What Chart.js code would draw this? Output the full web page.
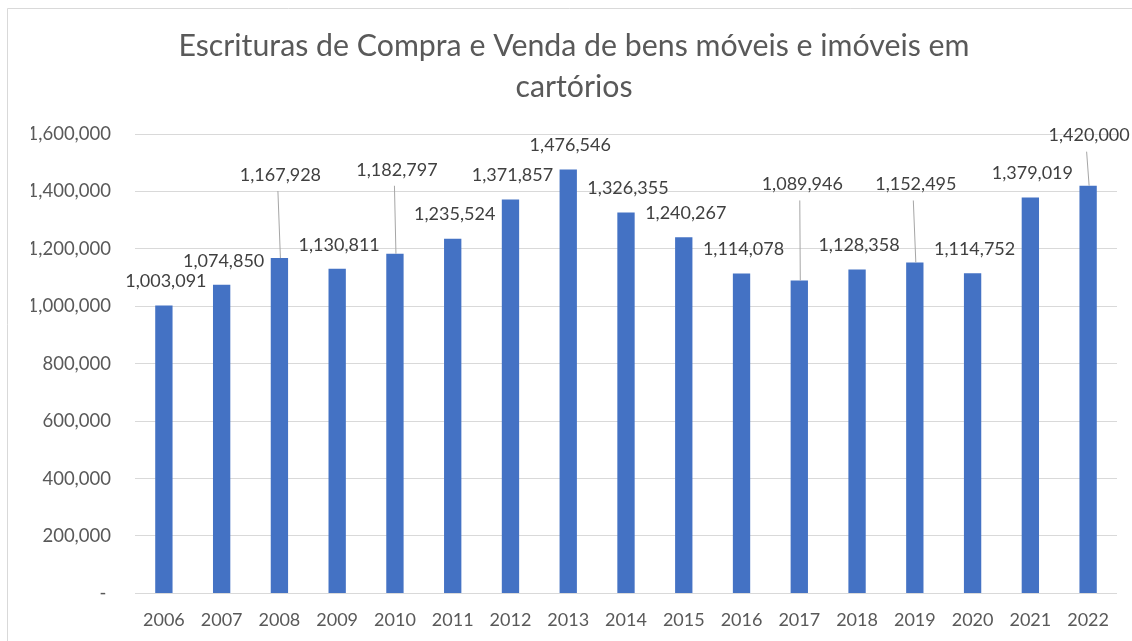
<!DOCTYPE html>
<html>
<head>
<meta charset="utf-8">
<script src="https://cdn.jsdelivr.net/npm/chart.js@4.4.0/dist/chart.umd.min.js"></script>
<style>
  html, body { margin: 0; padding: 0; background: #ffffff; }
  #wrap { position: relative; width: 1132px; height: 641px; }
</style>
</head>
<body>
<div id="wrap"><canvas id="c" width="1132" height="641"></canvas></div>
<script>
const years = ['2006','2007','2008','2009','2010','2011','2012','2013','2014','2015','2016','2017','2018','2019','2020','2021','2022'];
const deeds = [1003091,1074850,1167928,1130811,1182797,1235524,1371857,1476546,1326355,1240267,1114078,1089946,1128358,1152495,1114752,1379019,1420000];
const yMin = 0;
const yMax = 1600000;
const yStep = 200000;
const titleLines = ['Escrituras de Compra e Venda de bens móveis e imóveis em', 'cartórios'];

const FONT = 'Lato, "Open Sans", "Liberation Sans", sans-serif';
const fmt = v => v.toLocaleString('en-US');

// label placement (pixel offsets relative to the top of each bar)
const labelLayout = {
  base: { dx: 2, dy: -24 },
  moved: { 2: { dx: 1, dy: -83 }, 4: { dx: 2, dy: -84 }, 11: { dx: 3, dy: -96 }, 13: { dx: 1, dy: -78 }, 16: { dx: 1, dy: -50 } }
};

const frame = {
  id: 'frame',
  beforeDraw(chart) {
    const ctx = chart.ctx;
    ctx.save();
    ctx.fillStyle = '#ffffff';
    ctx.fillRect(0, 0, chart.width, chart.height);
    ctx.strokeStyle = '#d9d9d9';
    ctx.lineWidth = 1;
    ctx.beginPath();
    ctx.moveTo(7.5, chart.height);
    ctx.lineTo(7.5, 8.5);
    ctx.lineTo(chart.width, 8.5);
    ctx.stroke();
    ctx.restore();
  }
};

const barLabels = {
  id: 'barLabels',
  afterDatasetsDraw(chart) {
    const ctx = chart.ctx;
    const meta = chart.getDatasetMeta(0);
    const vals = chart.data.datasets[0].data;
    ctx.save();
    ctx.font = '18px ' + FONT;
    ctx.textAlign = 'center';
    ctx.textBaseline = 'middle';
    meta.data.forEach((bar, i) => {
      const moved = labelLayout.moved[i];
      const off = moved || labelLayout.base;
      const lx = bar.x + off.dx;
      const ly = bar.y + off.dy;
      if (moved) {
        ctx.strokeStyle = '#a6a6a6';
        ctx.lineWidth = 1;
        ctx.beginPath();
        ctx.moveTo(lx - 2.5, ly + 16);
        ctx.lineTo(bar.x + 1, bar.y);
        ctx.stroke();
      }
      ctx.fillStyle = '#404040';
      ctx.fillText(fmt(vals[i]), lx, ly);
    });
    ctx.restore();
  }
};

new Chart(document.getElementById('c'), {
  type: 'bar',
  data: {
    labels: years,
    datasets: [{
      data: deeds,
      backgroundColor: '#4472c4',
      borderWidth: 0,
      categoryPercentage: 1.0,
      barPercentage: 0.3
    }]
  },
  options: {
    responsive: false,
    animation: false,
    devicePixelRatio: 1,
    layout: { padding: { top: 18, left: 31, right: 15, bottom: -5 } },
    plugins: {
      legend: { display: false },
      tooltip: { enabled: false },
      title: {
        display: true,
        text: titleLines,
        color: '#595959',
        font: { family: FONT, size: 30.3, weight: 'normal', lineHeight: 41 / 30.3 },
        padding: { top: 8, bottom: 26 }
      }
    },
    scales: {
      x: {
        grid: { display: false, drawTicks: false },
        border: { display: false },
        ticks: {
          color: '#595959',
          font: { family: FONT, size: 18 },
          padding: 15.5,
          maxRotation: 0,
          autoSkip: false
        }
      },
      y: {
        min: yMin,
        max: yMax,
        afterFit(scale) { scale.width = 104; },
        grid: { color: '#d9d9d9', lineWidth: 1, drawTicks: false },
        border: { display: false },
        ticks: {
          stepSize: yStep,
          color: '#595959',
          font: { family: FONT, size: 18.5 },
          padding: 24,
          callback: v => v === 0 ? '- ' : fmt(v)
        }
      }
    }
  },
  plugins: [frame, barLabels]
});
</script>
</body>
</html>
